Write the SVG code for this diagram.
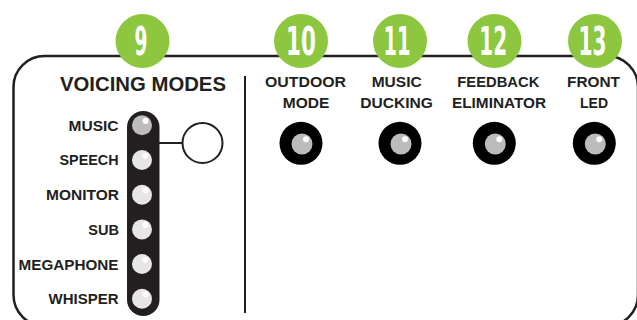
<svg xmlns="http://www.w3.org/2000/svg" width="637" height="320" viewBox="0 0 637 320">
<style>
.ink{fill:#231f20}
.frame{fill:none;stroke:#231f20;stroke-width:2.5}
.badge{fill:#8dc63f}
.num{font-family:"DejaVu Sans Condensed","DejaVu Sans",sans-serif;font-weight:bold;font-size:39px;fill:#fff;text-anchor:middle}
.lbl{font-family:"Liberation Sans",Arial,sans-serif;font-weight:bold;font-size:15px;fill:#231f20}
.r{text-anchor:end}
.c{text-anchor:middle}
.title{font-family:"Liberation Sans",Arial,sans-serif;font-weight:bold;font-size:19.5px;fill:#231f20;text-anchor:middle}
.led{fill:#e6e6e6}
.ledon{fill:#bdbdbd}
.hl{fill:#fff}
.knob{fill:#000}
.knobin{fill:#bcbcbc}
.wire{stroke:#231f20;stroke-width:2;fill:none}
</style>
<rect width="637" height="320" fill="#fff"/>
<g id="frame">
<path class="frame" d="M44.5,56 H607 A31,31 0 0 1 638,87 V295 A31,31 0 0 1 607,326 H44.5 A31,31 0 0 1 13.5,295 V87 A31,31 0 0 1 44.5,56 Z"/>
<line x1="245" y1="76" x2="245" y2="313" stroke="#231f20" stroke-width="2"/>
</g>
<g id="connectors">
<line class="wire" x1="159" y1="143" x2="183" y2="143"/>
</g>
<g id="voicing-modes">
<text class="title" x="143" y="91" textLength="166" lengthAdjust="spacingAndGlyphs">VOICING MODES</text>
<rect class="ink" x="127" y="111" width="32.5" height="205" rx="16.25"/>
<circle class="ledon" cx="142" cy="125.3" r="10"/>
<circle class="hl" cx="145.5" cy="121" r="3"/>
<circle class="led" cx="142" cy="160" r="10"/>
<circle class="hl" cx="145.5" cy="155.7" r="3"/>
<circle class="led" cx="142" cy="194.7" r="10"/>
<circle class="hl" cx="145.5" cy="190.4" r="3"/>
<circle class="led" cx="142" cy="229.4" r="10"/>
<circle class="hl" cx="145.5" cy="225.1" r="3"/>
<circle class="led" cx="142" cy="264" r="10"/>
<circle class="hl" cx="145.5" cy="259.7" r="3"/>
<circle class="led" cx="142" cy="298.8" r="10"/>
<circle class="hl" cx="145.5" cy="294.5" r="3"/>
<text class="lbl r" x="118.5" y="130.7" textLength="50" lengthAdjust="spacingAndGlyphs">MUSIC</text>
<text class="lbl r" x="118.5" y="165.4" textLength="59" lengthAdjust="spacingAndGlyphs">SPEECH</text>
<text class="lbl r" x="119" y="200.1" textLength="73" lengthAdjust="spacingAndGlyphs">MONITOR</text>
<text class="lbl r" x="119" y="234.8" textLength="30.7" lengthAdjust="spacingAndGlyphs">SUB</text>
<text class="lbl r" x="118.5" y="269.5" textLength="100" lengthAdjust="spacingAndGlyphs">MEGAPHONE</text>
<text class="lbl r" x="118.5" y="304.2" textLength="70" lengthAdjust="spacingAndGlyphs">WHISPER</text>
</g>
<g id="selector">
<circle cx="202.5" cy="143" r="20" fill="#fff" stroke="#231f20" stroke-width="2"/>
</g>
<g id="badge-9">
<circle class="badge" cx="142.5" cy="41" r="27"/>
<text class="num" x="141" y="55" textLength="13" lengthAdjust="spacingAndGlyphs">9</text>
</g>
<g id="outdoor-mode">
<circle class="badge" cx="301" cy="41" r="27"/>
<text class="num" x="301" y="55" textLength="30" lengthAdjust="spacingAndGlyphs">10</text>
<text class="lbl c" x="305.5" y="86.7" textLength="81" lengthAdjust="spacingAndGlyphs">OUTDOOR</text>
<text class="lbl c" x="306" y="108.3" textLength="46.6" lengthAdjust="spacingAndGlyphs">MODE</text>
<circle class="knob" cx="301" cy="143.3" r="21.5"/>
<circle class="knobin" cx="302" cy="144" r="10.5"/>
<circle class="hl" cx="306" cy="139.3" r="3"/>
</g>
<g id="music-ducking">
<circle class="badge" cx="400" cy="41" r="27"/>
<text class="num" x="397" y="55" textLength="27" lengthAdjust="spacingAndGlyphs">11</text>
<text class="lbl c" x="396.7" y="86.7" textLength="50" lengthAdjust="spacingAndGlyphs">MUSIC</text>
<text class="lbl c" x="396.5" y="108.3" textLength="72.7" lengthAdjust="spacingAndGlyphs">DUCKING</text>
<circle class="knob" cx="400" cy="143.3" r="21.5"/>
<circle class="knobin" cx="401" cy="144" r="10.5"/>
<circle class="hl" cx="405" cy="139.3" r="3"/>
</g>
<g id="feedback-eliminator">
<circle class="badge" cx="494.5" cy="41" r="27"/>
<text class="num" x="493.3" y="55" textLength="28" lengthAdjust="spacingAndGlyphs">12</text>
<text class="lbl c" x="498.3" y="86.7" textLength="82" lengthAdjust="spacingAndGlyphs">FEEDBACK</text>
<text class="lbl c" x="499" y="108.3" textLength="94" lengthAdjust="spacingAndGlyphs">ELIMINATOR</text>
<circle class="knob" cx="494.3" cy="143.3" r="21.5"/>
<circle class="knobin" cx="495.3" cy="144" r="10.5"/>
<circle class="hl" cx="499.3" cy="139.3" r="3"/>
</g>
<g id="front-led">
<circle class="badge" cx="595" cy="41" r="27"/>
<text class="num" x="592.5" y="55" textLength="28" lengthAdjust="spacingAndGlyphs">13</text>
<text class="lbl c" x="593.5" y="86.7" textLength="53" lengthAdjust="spacingAndGlyphs">FRONT</text>
<text class="lbl c" x="594" y="108.3" textLength="28" lengthAdjust="spacingAndGlyphs">LED</text>
<circle class="knob" cx="594.3" cy="143.3" r="21.5"/>
<circle class="knobin" cx="595.3" cy="144" r="10.5"/>
<circle class="hl" cx="599.3" cy="139.3" r="3"/>
</g>
</svg>
